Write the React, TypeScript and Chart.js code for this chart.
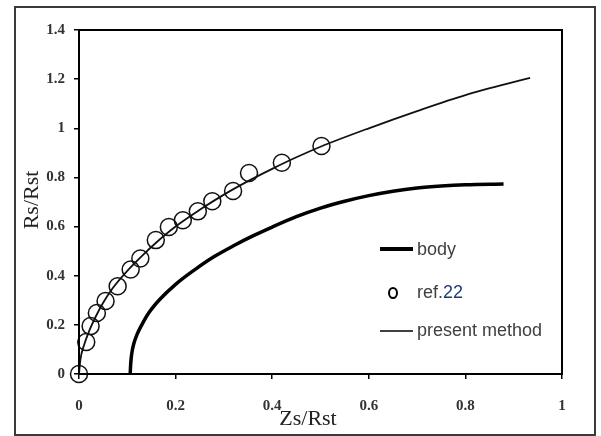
import React, { useEffect, useRef } from "react";
import { Chart, registerables } from "chart.js";

Chart.register(...registerables);

// ---- data ----
const bodyX = [0.106, 0.107, 0.109, 0.113, 0.12, 0.13, 0.145, 0.168, 0.2, 0.24, 0.28, 0.32, 0.36, 0.4, 0.45, 0.5, 0.55, 0.6, 0.65, 0.7, 0.75, 0.8, 0.879];
const bodyY = [0, 0.04, 0.08, 0.12, 0.16, 0.2, 0.25, 0.305, 0.365, 0.425, 0.478, 0.522, 0.562, 0.598, 0.64, 0.675, 0.703, 0.726, 0.744, 0.757, 0.765, 0.77, 0.773];

const refX = [0, 0.015, 0.024, 0.037, 0.055, 0.08, 0.107, 0.127, 0.159, 0.186, 0.215, 0.246, 0.276, 0.319, 0.352, 0.42, 0.502];
const refY = [0, 0.13, 0.195, 0.248, 0.297, 0.357, 0.425, 0.47, 0.545, 0.598, 0.626, 0.662, 0.703, 0.745, 0.818, 0.86, 0.928];

const presentX = [0, 0.003, 0.01, 0.02, 0.035, 0.05, 0.07, 0.1, 0.13, 0.16, 0.2, 0.25, 0.3, 0.35, 0.4, 0.45, 0.5, 0.6, 0.7, 0.8, 0.934];
const presentY = [0, 0.06, 0.115, 0.17, 0.235, 0.29, 0.35, 0.42, 0.48, 0.535, 0.6, 0.668, 0.73, 0.785, 0.835, 0.882, 0.925, 1.0, 1.07, 1.135, 1.205];

const xTickValues = [0, 0.2, 0.4, 0.6, 0.8, 1];
const xTickLabels = ["0", "0.2", "0.4", "0.6", "0.8", "1"];
const yTickValues = [0, 0.2, 0.4, 0.6, 0.8, 1, 1.2, 1.4];
const yTickLabels = ["0", "0.2", "0.4", "0.6", "0.8", "1", "1.2", "1.4"];

const seriesNames = ["body", "ref.", "22", "present method"];
const xTitle = "Zs/Rst";
const yTitle = "Rs/Rst";

const toPoints = (xs: number[], ys: number[]) => xs.map((x, i) => ({ x, y: ys[i] }));

const labelFor = (values: number[], labels: string[], v: number) => {
  const i = values.findIndex((t) => Math.abs(t - v) < 1e-6);
  return i >= 0 ? labels[i] : "";
};

const framePlugin = {
  id: "frame",
  beforeDraw(chart: any) {
    const ctx = chart.ctx;
    ctx.save();
    ctx.fillStyle = "#ffffff";
    ctx.fillRect(0, 0, chart.width, chart.height);
    ctx.restore();
  },
  afterDraw(chart: any) {
    const { ctx, chartArea: a } = chart;
    ctx.save();
    // outer border
    ctx.strokeStyle = "#3a3a3a";
    ctx.lineWidth = 2;
    ctx.strokeRect(15, 7, 580, 428);
    // plot frame
    ctx.strokeStyle = "#000";
    ctx.lineWidth = 2;
    ctx.strokeRect(a.left, a.top, a.right - a.left, a.bottom - a.top);

    // axis titles
    ctx.fillStyle = "#222";
    ctx.font = "22px 'Liberation Serif', 'Times New Roman', serif";
    ctx.textAlign = "center";
    ctx.textBaseline = "middle";
    ctx.fillText(xTitle, 308, 419);
    ctx.save();
    ctx.translate(32, 200);
    ctx.rotate(-Math.PI / 2);
    ctx.fillText(yTitle, 0, 0);
    ctx.restore();

    // legend
    ctx.strokeStyle = "#000";
    ctx.lineCap = "butt";
    ctx.lineWidth = 4;
    ctx.beginPath();
    ctx.moveTo(380, 249);
    ctx.lineTo(413, 249);
    ctx.stroke();

    ctx.lineWidth = 2;
    ctx.beginPath();
    ctx.ellipse(393, 293, 4, 5, 0, 0, Math.PI * 2);
    ctx.stroke();

    ctx.lineWidth = 1.5;
    ctx.beginPath();
    ctx.moveTo(380, 331);
    ctx.lineTo(413, 331);
    ctx.stroke();

    ctx.font = "18px 'Liberation Sans', Arial, sans-serif";
    ctx.textAlign = "left";
    ctx.textBaseline = "middle";
    ctx.fillStyle = "#404040";
    ctx.fillText(seriesNames[0], 417, 250);
    ctx.fillText(seriesNames[1], 417, 293);
    const w = ctx.measureText(seriesNames[1]).width;
    ctx.fillStyle = "#1f3b7a";
    ctx.fillText(seriesNames[2], 417 + w, 293);
    ctx.fillStyle = "#404040";
    ctx.fillText(seriesNames[3], 417, 331);
    ctx.restore();
  },
};

export default function App() {
  const ref = useRef<HTMLCanvasElement | null>(null);

  useEffect(() => {
    document.body.style.margin = "0";
    const canvas = ref.current;
    if (!canvas) return;
    const tickFont = { family: "'Liberation Serif', 'Times New Roman', serif", size: 15, weight: "bold" as const };
    const chart = new Chart(canvas, {
      type: "scatter",
      data: {
        datasets: [
          {
            label: seriesNames[0],
            data: toPoints(bodyX, bodyY),
            showLine: true,
            borderColor: "#000",
            borderWidth: 3.5,
            pointRadius: 0,
            cubicInterpolationMode: "monotone",
            fill: false,
          },
          {
            label: seriesNames[1] + seriesNames[2],
            data: toPoints(refX, refY),
            showLine: false,
            borderColor: "#111",
            backgroundColor: "rgba(0,0,0,0)",
            pointStyle: "circle",
            pointRadius: 8.5,
            pointBorderWidth: 1.5,
            clip: false,
          } as any,
          {
            label: seriesNames[3],
            data: toPoints(presentX, presentY),
            showLine: true,
            borderColor: "#111",
            borderWidth: 1.8,
            pointRadius: 0,
            cubicInterpolationMode: "monotone",
            fill: false,
          },
        ],
      },
      options: {
        animation: false,
        responsive: false,
        devicePixelRatio: 1,
        layout: { padding: { left: 0, top: 30, right: 39, bottom: 0 } },
        plugins: { legend: { display: false }, tooltip: { enabled: false } },
        scales: {
          x: {
            type: "linear",
            min: 0,
            max: 1,
            afterBuildTicks: (s: any) => {
              s.ticks = xTickValues.map((v) => ({ value: v }));
            },
            afterFit: (s: any) => {
              s.height = 62;
            },
            ticks: {
              font: tickFont,
              color: "#333",
              padding: 18,
              maxRotation: 0,
              callback: (v: any) => labelFor(xTickValues, xTickLabels, Number(v)),
            },
            grid: { display: true, drawOnChartArea: false, drawTicks: true, tickLength: 5, color: "#000", lineWidth: 1.5 },
            border: { display: false },
          },
          y: {
            type: "linear",
            min: 0,
            max: 1.4,
            afterBuildTicks: (s: any) => {
              s.ticks = yTickValues.map((v) => ({ value: v }));
            },
            afterFit: (s: any) => {
              s.width = 79;
            },
            ticks: {
              font: tickFont,
              color: "#333",
              padding: 9,
              callback: (v: any) => labelFor(yTickValues, yTickLabels, Number(v)),
            },
            grid: { display: true, drawOnChartArea: false, drawTicks: true, tickLength: 5, color: "#000", lineWidth: 1.5 },
            border: { display: false },
          },
        },
      },
      plugins: [framePlugin],
    });
    return () => chart.destroy();
  }, []);

  return (
    <div style={{ width: 601, height: 436 }}>
      <canvas ref={ref} width={601} height={436} style={{ display: "block", width: 601, height: 436 }} />
    </div>
  );
}
